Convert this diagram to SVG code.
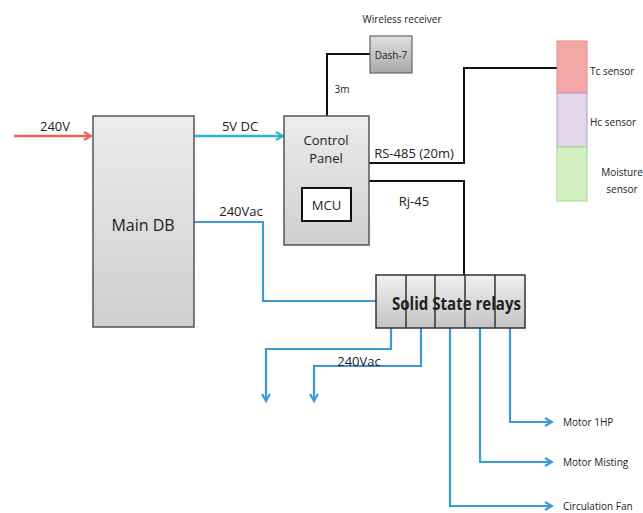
<svg xmlns="http://www.w3.org/2000/svg" width="643" height="513" viewBox="0 0 643 513">
<defs>
<linearGradient id="gbox" x1="0" y1="0" x2="0" y2="1"><stop offset="0" stop-color="#ececec"/><stop offset="1" stop-color="#cfcfcf"/></linearGradient>
<linearGradient id="gdash" x1="0" y1="0" x2="0" y2="1"><stop offset="0" stop-color="#e0e0e0"/><stop offset="1" stop-color="#a9a9a9"/></linearGradient>
<linearGradient id="grel" x1="0" y1="0" x2="0" y2="1"><stop offset="0" stop-color="#f0f0f0"/><stop offset="1" stop-color="#c4c4c4"/></linearGradient>
<marker id="ab" markerWidth="10" markerHeight="10" refX="8" refY="5" orient="auto" markerUnits="userSpaceOnUse"><path d="M1,1 L8,5 L1,9" fill="none" stroke="#3d9ad6" stroke-width="2.2"/></marker>
<marker id="ac" markerWidth="10" markerHeight="10" refX="8" refY="5" orient="auto" markerUnits="userSpaceOnUse"><path d="M1,1 L8,5 L1,9" fill="none" stroke="#2fb3d3" stroke-width="2.2"/></marker>
<marker id="ar" markerWidth="10" markerHeight="10" refX="8" refY="5" orient="auto" markerUnits="userSpaceOnUse"><path d="M1,1 L8,5 L1,9" fill="none" stroke="#e8625a" stroke-width="2.2"/></marker>
</defs>
<style>
text{font-family:"Open Sans","Liberation Sans",sans-serif;fill:#222}
.box{fill:url(#gbox);stroke:#555;stroke-width:1.5}
.k{fill:none;stroke:#111;stroke-width:2}
.b{fill:none;stroke:#3d9ad6;stroke-width:2.2}
.s{font-size:10px}
.m{font-size:13px}
</style>
<rect width="643" height="513" fill="#fff"/>
<g id="connectors">
<line x1="14" y1="136" x2="91" y2="136" stroke="#e8625a" stroke-width="2.4" marker-end="url(#ar)"/>
<line x1="195" y1="136" x2="283" y2="136" stroke="#2fb3d3" stroke-width="2.4" marker-end="url(#ac)"/>
<polyline class="b" points="194,222 263,222 263,301 376,301"/>
<polyline class="k" points="327,116 327,54 370,54"/>
<polyline class="k" points="369,163 464,163 464,68 557,68"/>
<polyline class="k" points="369,181 464,181 464,275"/>
<polyline class="b" points="391,328 391,349 266,349 266,401" marker-end="url(#ab)"/>
<polyline class="b" points="421,328 421,366 314,366 314,401" marker-end="url(#ab)"/>
<polyline class="b" points="450,328 450,506 552,506" marker-end="url(#ab)"/>
<polyline class="b" points="480,328 480,462 552,462" marker-end="url(#ab)"/>
<polyline class="b" points="510,328 510,422 552,422" marker-end="url(#ab)"/>
</g>
<g id="labels">
<text x="55" y="131" text-anchor="middle" class="m" font-size="14">240V</text>
<text x="240" y="131" text-anchor="middle" class="m" font-size="14">5V DC</text>
<text x="241" y="216" text-anchor="middle" class="m" font-size="14">240Vac</text>
<text x="342" y="93" text-anchor="middle" class="s">3m</text>
<text x="414" y="158" text-anchor="middle" class="m" font-size="12">RS-485 (20m)</text>
<text x="414" y="206" text-anchor="middle" class="m" font-size="14">Rj-45</text>
<text x="359" y="366" text-anchor="middle" class="m" font-size="12">240Vac</text>
</g>
<g id="main-db">
<rect class="box" x="93" y="116" width="101" height="211"/>
<text x="143" y="231" text-anchor="middle" font-size="16">Main DB</text>
</g>
<g id="control-panel">
<rect class="box" x="284" y="116" width="85" height="129"/>
<text x="326" y="145" text-anchor="middle" class="m" font-size="13.5">Control</text>
<text x="326" y="163" text-anchor="middle" class="m" font-size="13.5">Panel</text>
</g>
<g id="mcu">
<rect x="302" y="188" width="49" height="33" fill="#fff" stroke="#111" stroke-width="2"/>
<text x="326.5" y="210" text-anchor="middle" class="m" font-size="14">MCU</text>
</g>
<g id="dash7">
<text x="402" y="23" text-anchor="middle" class="s" font-size="9.5">Wireless receiver</text>
<rect x="370" y="36" width="42" height="37" fill="url(#gdash)" stroke="#666" stroke-width="1.2"/>
<text x="391" y="59" text-anchor="middle" class="s">Dash-7</text>
</g>
<g id="tc-sensor">
<rect x="557" y="41" width="30" height="52" fill="#f5a9a7" stroke="#e08a88" stroke-width="1"/>
<text x="590" y="75" class="s">Tc sensor</text>
</g>
<g id="hc-sensor">
<rect x="557" y="93" width="30" height="54" fill="#e4d6ea" stroke="#b39bc4" stroke-width="1"/>
<text x="590" y="126" class="s">Hc sensor</text>
</g>
<g id="moisture-sensor">
<rect x="557" y="147" width="30" height="54" fill="#d2f0c0" stroke="#a9d88f" stroke-width="1"/>
<text x="622" y="176" text-anchor="middle" class="s">Moisture</text>
<text x="622" y="193" text-anchor="middle" class="s">sensor</text>
</g>
<g id="solid-state-relays">
<rect x="376" y="275" width="149" height="53" fill="url(#grel)" stroke="#333" stroke-width="1.5"/>
<line x1="406" y1="275" x2="406" y2="328" stroke="#333" stroke-width="1.5"/>
<line x1="435" y1="275" x2="435" y2="328" stroke="#333" stroke-width="1.5"/>
<line x1="465" y1="275" x2="465" y2="328" stroke="#333" stroke-width="1.5"/>
<line x1="495" y1="275" x2="495" y2="328" stroke="#333" stroke-width="1.5"/>
<text x="392" y="310" font-size="18" font-weight="bold" fill="#111" textLength="129" lengthAdjust="spacingAndGlyphs">Solid State relays</text>
</g>
<g id="motor-1hp"><text x="563" y="426" class="s">Motor 1HP</text></g>
<g id="motor-misting"><text x="563" y="466" class="s">Motor Misting</text></g>
<g id="circulation-fan"><text x="563" y="510" class="s">Circulation Fan</text></g>
</svg>
